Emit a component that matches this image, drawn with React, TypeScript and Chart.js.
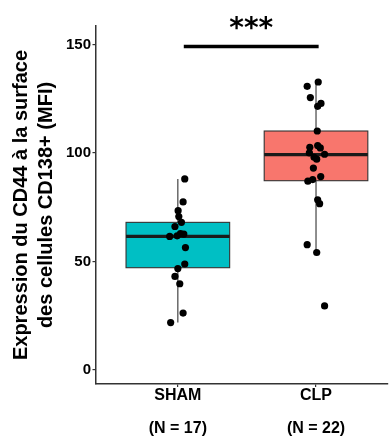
import React, { useEffect, useRef } from 'react';
import { Chart, registerables } from 'chart.js';

Chart.register(...registerables);

const categories = ['SHAM', 'CLP'];
const groupCounts = ['(N = 17)', '(N = 22)'];
const yTicks = [0, 50, 100, 150];

const shamValues = [88.0, 77.4, 73.4, 70.7, 68.0, 66.1, 61.5, 61.8, 62.6, 62.8, 56.4, 48.8, 46.7, 43.1, 39.7, 26.2, 21.8];
const shamJitter = [0.05, 0.038, 0.002, 0.007, 0.026, -0.021, -0.059, -0.005, 0.043, 0.019, 0.055, 0.05, 0.0, -0.021, 0.014, 0.038, -0.052];

const clpValues = [132.7, 130.7, 125.5, 122.8, 121.5, 110.1, 103.4, 102.6, 102.3, 100.0, 99.4, 97.1, 93.0, 89.1, 87.7, 87.0, 78.4, 76.6, 57.7, 54.1, 29.5, 98.0];
const clpJitter = [0.016, -0.064, -0.041, 0.036, 0.012, 0.009, 0.012, -0.045, 0.031, -0.048, 0.062, 0.005, -0.019, 0.034, -0.024, -0.059, 0.012, 0.026, -0.064, 0.005, 0.062, -0.014];

const boxQ1 = [47.1, 87.2];
const boxMedian = [61.5, 99.2];
const boxQ3 = [68.0, 110.1];
const whiskerLow = [21.8, 54.1];
const whiskerHigh = [88.0, 132.7];
const boxColors = ['#00BFC4', '#F8766D'];

const sigLabel = '***';
const sigFrom = 1.043;
const sigTo = 2.019;
const sigY = 149.1;
const sigLabelX = 1.531;
const sigLabelY = 157.0;

const yTitle = ['Expression du CD44 à la surface', 'des cellules CD138+ (MFI)'];

const FONT = '"Liberation Sans", Arial, sans-serif';

const boxPlugin = {
  id: 'boxes',
  beforeDatasetsDraw(chart: any) {
    const { ctx, scales } = chart;
    const x = scales.x;
    const y = scales.y;
    ctx.save();
    categories.forEach((_, i) => {
      const c = i + 1;
      const xl = x.getPixelForValue(c - 0.375);
      const xr = x.getPixelForValue(c + 0.375);
      const xc = x.getPixelForValue(c);
      ctx.strokeStyle = '#333333';
      ctx.lineWidth = 1.1;
      ctx.beginPath();
      ctx.moveTo(xc, y.getPixelForValue(boxQ3[i]));
      ctx.lineTo(xc, y.getPixelForValue(whiskerHigh[i]));
      ctx.moveTo(xc, y.getPixelForValue(boxQ1[i]));
      ctx.lineTo(xc, y.getPixelForValue(whiskerLow[i]));
      ctx.stroke();
      const yt = y.getPixelForValue(boxQ3[i]);
      const yb = y.getPixelForValue(boxQ1[i]);
      ctx.fillStyle = boxColors[i];
      ctx.fillRect(xl, yt, xr - xl, yb - yt);
      ctx.lineWidth = 1.1;
      ctx.strokeRect(xl, yt, xr - xl, yb - yt);
      ctx.strokeStyle = '#1a1a1a';
      ctx.lineWidth = 3.2;
      ctx.beginPath();
      const ym = y.getPixelForValue(boxMedian[i]);
      ctx.moveTo(xl, ym);
      ctx.lineTo(xr, ym);
      ctx.stroke();
    });
    ctx.restore();
  },
  afterDraw(chart: any) {
    const { ctx, scales } = chart;
    const x = scales.x;
    const y = scales.y;
    ctx.save();
    ctx.strokeStyle = '#000';
    ctx.lineWidth = 3.5;
    ctx.beginPath();
    const yy = y.getPixelForValue(sigY);
    ctx.moveTo(x.getPixelForValue(sigFrom), yy);
    ctx.lineTo(x.getPixelForValue(sigTo), yy);
    ctx.stroke();
    ctx.fillStyle = '#000';
    ctx.font = 'bold 28px "DejaVu Sans", sans-serif';
    ctx.textAlign = 'center';
    ctx.textBaseline = 'middle';
    ctx.fillText(sigLabel, x.getPixelForValue(sigLabelX), y.getPixelForValue(sigLabelY));
    ctx.restore();
  },
};

export default function App() {
  const ref = useRef<HTMLCanvasElement>(null);
  useEffect(() => {
    if (!ref.current) return;
    const chart = new Chart(ref.current, {
      type: 'scatter',
      data: {
        datasets: [
          {
            label: categories[0],
            data: shamValues.map((v, i) => ({ x: 1 + shamJitter[i], y: v })),
            backgroundColor: '#000',
            borderWidth: 0,
            pointRadius: 3.6,
          },
          {
            label: categories[1],
            data: clpValues.map((v, i) => ({ x: 2 + clpJitter[i], y: v })),
            backgroundColor: '#000',
            borderWidth: 0,
            pointRadius: 3.6,
          },
        ],
      },
      options: {
        animation: false,
        responsive: false,
        layout: { padding: { top: 26, left: 0, right: 0, bottom: 0 } },
        plugins: { legend: { display: false }, tooltip: { enabled: false } },
        scales: {
          x: {
            type: 'linear',
            min: 0.404,
            max: 2.521,
            afterBuildTicks: (s: any) => {
              s.ticks = categories.map((_, i) => ({ value: i + 1 }));
            },
            afterFit: (s: any) => {
              s.height = 52;
            },
            grid: { drawOnChartArea: false, drawTicks: true, tickLength: 3, color: '#333333', lineWidth: 1.2 },
            border: { display: true, color: '#333333', width: 1.5 },
            ticks: {
              autoSkip: false,
              maxRotation: 0,
              padding: -7.5,
              color: '#000',
              font: { family: FONT, size: 16, weight: 'bold', lineHeight: '33px' },
              callback: (v: any) => {
                const i = Math.round(Number(v)) - 1;
                return [categories[i], groupCounts[i]];
              },
            },
          },
          y: {
            type: 'linear',
            min: -6.5,
            max: 158.5,
            afterBuildTicks: (s: any) => {
              s.ticks = yTicks.map((v) => ({ value: v }));
            },
            afterFit: (s: any) => {
              s.width = 95.5;
            },
            grid: { drawOnChartArea: false, drawTicks: true, tickLength: 3, color: '#333333', lineWidth: 1.2 },
            border: { display: true, color: '#333333', width: 1.5 },
            ticks: {
              padding: 1.5,
              color: '#000',
              font: { family: FONT, size: 15, weight: 'bold' },
            },
            title: {
              display: true,
              text: yTitle,
              color: '#000',
              font: { family: FONT, size: 20, weight: 'bold', lineHeight: 1.25 },
              padding: { top: 8.5, bottom: 0 },
            },
          },
        },
      },
      plugins: [boxPlugin],
    } as any);
    return () => chart.destroy();
  }, []);
  return (
    <div style={{ position: 'fixed', left: 0, top: 0, width: 392, height: 436, background: '#fff' }}>
      <canvas ref={ref} width={392} height={436} style={{ display: 'block' }} />
    </div>
  );
}
